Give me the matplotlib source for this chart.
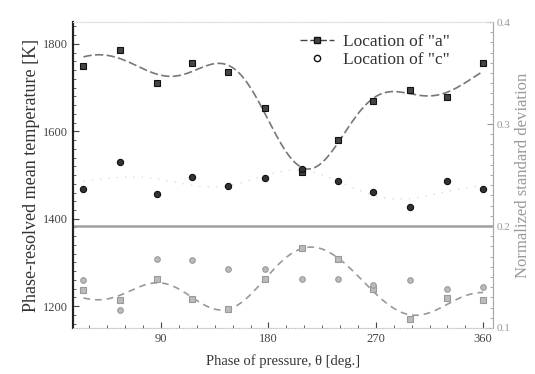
import matplotlib.pyplot as plt
import numpy as np
from matplotlib.ticker import MultipleLocator

# phase of pressure [deg]
phase = [25, 56, 87, 116, 146, 177, 208, 238, 268, 299, 330, 360]

# phase-resolved mean temperature [K]
temp_a = [1749, 1786, 1710, 1756, 1736, 1653, 1508, 1580, 1669, 1694, 1678, 1756]
temp_c = [1468, 1530, 1456, 1495, 1475, 1493, 1513, 1486, 1461, 1427, 1486, 1468]

# normalized standard deviation
std_a = [0.137, 0.127, 0.148, 0.128, 0.119, 0.148, 0.178, 0.168, 0.138, 0.109, 0.129, 0.127]
std_c = [0.147, 0.118, 0.168, 0.167, 0.158, 0.158, 0.148, 0.148, 0.142, 0.147, 0.138, 0.140]


def fourier_fit(x, y, order, xs):
    # least-squares periodic fit (period 360 deg)
    x = np.radians(np.asarray(x, float))
    xs_r = np.radians(xs)
    cols = [np.ones_like(x)]
    cols_s = [np.ones_like(xs_r)]
    for k in range(1, order + 1):
        cols += [np.cos(k * x), np.sin(k * x)]
        cols_s += [np.cos(k * xs_r), np.sin(k * xs_r)]
    coef, *_ = np.linalg.lstsq(np.column_stack(cols), np.asarray(y, float), rcond=None)
    return np.column_stack(cols_s) @ coef


plt.rcParams['font.family'] = ['Liberation Serif', 'DejaVu Serif']

fig = plt.figure(figsize=(5.35, 3.74), dpi=100)
ax = fig.add_axes([0.136, 0.123, 0.785, 0.818])
ax2 = ax.twinx()

xs = np.linspace(phase[0], phase[-1], 300)

# upper part: temperature
ax.plot(xs, fourier_fit(phase, temp_a, 4, xs), color='#777777', lw=1.2, ls=(0, (5, 2)))
ax.plot(xs, fourier_fit(phase, temp_c, 3, xs), color='#dddddd', lw=1.0, ls=(0, (1, 5)))
ax.plot(phase, temp_a, 's', color='#444444', mec='#111111', ms=4.5, mew=0.8)
ax.plot(phase, temp_c, 'o', color='#333333', mec='#111111', ms=4.5, mew=0.8)

# lower part: standard deviation
ax2.plot(xs, fourier_fit(phase, std_a, 4, xs), color='#999999', lw=1.2, ls=(0, (4, 3)))
ax2.plot(phase, std_a, 's', color='#bbbbbb', mec='#999999', ms=4, mew=0.8)
ax2.plot(phase, std_c, 'o', color='#bbbbbb', mec='#999999', ms=4, mew=0.8)
ax2.axhline(0.2, color='#a0a0a0', lw=1.8)

ax.set_xlim(16, 368)
ax.set_ylim(1150, 1850)
ax2.set_ylim(0.1, 0.4)

ax.set_xticks([90, 180, 270, 360])
ax.xaxis.set_minor_locator(MultipleLocator(15))
ax.set_yticks([1200, 1400, 1600, 1800])
ax.yaxis.set_minor_locator(MultipleLocator(20))
ax2.set_yticks([0.1, 0.2, 0.3, 0.4])
ax2.yaxis.set_minor_locator(MultipleLocator(0.01))
ax2.set_yticklabels(['0.1', '0.2', '0.3', '0.4'])

ax.tick_params(axis='both', which='both', direction='in', labelsize=9, colors='#444444')
ax.tick_params(axis='both', which='major', length=4)
ax.tick_params(axis='both', which='minor', length=2)
ax2.tick_params(axis='y', which='both', direction='in', labelsize=8, colors='#999999', pad=3)
ax2.tick_params(axis='y', which='major', length=4)
ax2.tick_params(axis='y', which='minor', length=2)

for a in (ax, ax2):
    a.spines['top'].set_color('#dddddd')
    a.spines['top'].set_linestyle(':')
    a.spines['bottom'].set_color('#cccccc')
    a.spines['bottom'].set_linestyle(':')
    a.spines['right'].set_color('#aaaaaa')
    a.spines['left'].set_color('#222222')
    a.spines['left'].set_linewidth(1.5)

ax.set_xlabel('Phase of pressure, θ [deg.]', fontsize=10.5, color='#333333', labelpad=7)
ax.set_ylabel('Phase-resolved mean temperature [K]', fontsize=13, color='#333333', labelpad=2)
ax2.set_ylabel('Normalized standard deviation', fontsize=12, color='#999999', labelpad=3)

handles = [
    ax.plot([], [], 's', ls=(0, (5, 2)), color='#444444', mec='#111111', ms=4.5, lw=1)[0],
    ax.plot([], [], 'o', color='#333333', mec='#111111', ms=4.5, mfc='white')[0],
]
ax.legend(handles, ['Location of "a"', 'Location of "c"'], loc='upper left',
          bbox_to_anchor=(0.54, 0.96), frameon=False, fontsize=12.5, handlelength=2.0,
          handletextpad=0.5, labelcolor='#333333', borderaxespad=0, borderpad=0,
          labelspacing=0.1)

fig.savefig('out.png', dpi=100)
